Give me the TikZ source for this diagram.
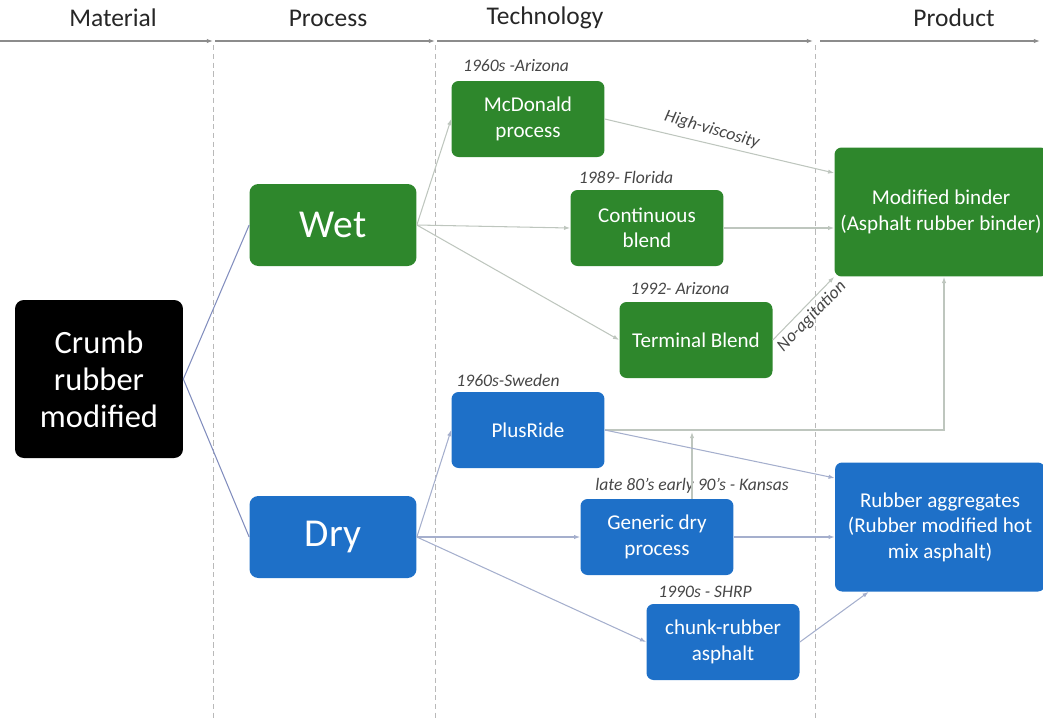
\documentclass[tikz,border=0pt]{standalone}
\usepackage{fontspec}
\setmainfont{Carlito}
\usetikzlibrary{arrows.meta, positioning, calc}
\definecolor{wetColor}{RGB}{46,135,44}
\definecolor{dryColor}{RGB}{30,112,200}
\definecolor{axisColor}{RGB}{140,140,140}
\definecolor{guideColor}{RGB}{185,185,185}
\definecolor{wetLine}{RGB}{190,198,190}
\definecolor{dryLine}{RGB}{165,175,205}
\definecolor{rootLine}{RGB}{130,142,190}
\definecolor{noteColor}{RGB}{70,70,70}

\begin{document}
\begin{tikzpicture}[
    x=0.02cm, y=-0.02cm,
    box/.style={rounded corners=4pt, text=white, align=center, minimum width=3.06cm, minimum height=1.52cm, font=\fontsize{12}{14.5}\selectfont},
    wetbox/.style={box, fill=wetColor},
    drybox/.style={box, fill=dryColor},
    bigbox/.style={rounded corners=5pt, text=white, align=center, minimum width=3.34cm, minimum height=1.64cm, font=\fontsize{22.5}{25}\selectfont},
    prodbox/.style={box, minimum width=4.2cm, minimum height=2.58cm},
    note/.style={text=noteColor, font=\fontsize{10}{12}\selectfont\itshape},
    header/.style={text=black!85, font=\fontsize{14.5}{16}\selectfont},
    wetarrow/.style={->, wetLine, line width=0.6pt},
    dryarrow/.style={->, dryLine, line width=0.6pt},
    >={Latex[length=3.5pt,width=2.5pt]}
]
\useasboundingbox (0,0) rectangle (1043,718);

% Define column borders
\def\colA{213}
\def\colB{435}
\def\colC{815}

% Column headers and axis
\node[header] (hmat) at (113,18) {Material};
\node[header] (hpro) at (328,18) {Process};
\node[header] (htec) at (545,18) {Technology};
\node[header] (hprd) at (954,18) {Product};
\coordinate (ax0) at (0,41);
\coordinate (ax1) at (\colA,41);
\coordinate (ax1b) at (\colA+2,41);
\coordinate (ax2) at (\colB,41);
\coordinate (ax2b) at (\colB+2,41);
\coordinate (ax3) at (\colC-2,41);
\coordinate (ax3b) at (\colC+5,41);
\coordinate (ax4) at (1040,41);
\draw[->, axisColor, line width=0.8pt] (ax0) -- (ax1);
\draw[->, axisColor, line width=0.8pt] (ax1b) -- (ax2);
\draw[->, axisColor, line width=0.8pt] (ax2b) -- (ax3);
\draw[->, axisColor, line width=0.8pt] (ax3b) -- (ax4);

% Dashed column separators
\foreach \x in {\colA,\colB,\colC} {
    \draw[guideColor, dash pattern=on 3pt off 2pt] (\x,45) -- (\x,718);
}

% Material
\node[bigbox, fill=black, minimum width=3.36cm, minimum height=3.16cm, font=\fontsize{18.5}{21}\selectfont] (crumb) at (99,379) {Crumb\\rubber\\modified};

% Process
\node[bigbox, fill=wetColor] (wet) at (333,225) {Wet};
\node[bigbox, fill=dryColor] (dry) at (333,537) {Dry};

% Technology, wet side
\node[wetbox] (mcd) at (528,119) {McDonald\\process};
\node[note] at (516,66) {1960s -Arizona};
\node[wetbox] (cont) at (647,228) {Continuous\\blend};
\node[note] at (626,177) {1989- Florida};
\node[wetbox] (term) at (696,340) {Terminal Blend};
\node[note] at (680,289) {1992- Arizona};

% Technology, dry side
\node[drybox] (plus) at (528,430) {PlusRide};
\node[note] at (508,380) {1960s-Sweden};
\node[drybox] (gen) at (657,537) {Generic dry\\process};
\node[note] at (692,486) {late 80's early 90's - Kansas};
\node[drybox] (chunk) at (723,642) {chunk-rubber\\asphalt};
\node[note] at (705,592) {1990s - SHRP};

% Product
\node[prodbox, fill=wetColor] (binder) at (941,212) {Modified binder\\(Asphalt rubber binder)};
\node[prodbox, fill=dryColor] (ragg) at (940,527) {Rubber aggregates\\(Rubber modified hot\\mix asphalt)};

% Material to process
\draw[rootLine, line width=0.6pt] (crumb.east) -- (wet.west);
\draw[rootLine, line width=0.6pt] (crumb.east) -- (dry.west);

% Process to technology
\foreach \t in {mcd, cont, term} {
    \draw[wetarrow] (wet.east) -- (\t.west);
}
\foreach \t in {plus, gen, chunk} {
    \draw[dryarrow] (dry.east) -- (\t.west);
}

% Technology to product
\draw[wetarrow] (mcd.east) -- node[note, above, sloped, pos=0.45, rotate=-3] {High-viscosity} ($(binder.west)+(0,-39)$);
\draw[wetarrow] (cont.east) -- (cont.east -| binder.west);
\draw[wetarrow] (term.east) -- node[note, below, sloped, pos=0.5, inner sep=2pt] {No-agitation} (binder.south west);
\draw[wetarrow] (plus.east) -| ($(binder.south)+(3,0)$);
\coordinate (join) at (692,432);
\draw[wetarrow] (gen.north -| join) -- (join);
\draw[dryarrow] (plus.east) -- ($(ragg.west)+(0,-49)$);
\draw[dryarrow] (gen.east) -- (gen.east -| ragg.west);
\draw[dryarrow] (chunk.east) -- ($(ragg.south west)+(34,0)$);

\end{tikzpicture}
\end{document}
